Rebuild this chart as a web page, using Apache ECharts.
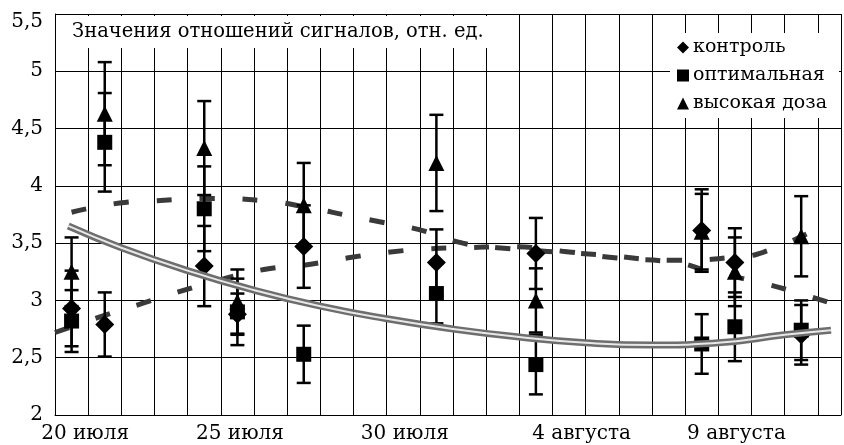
<!DOCTYPE html>
<html>
<head>
<meta charset="utf-8">
<script src="https://cdn.jsdelivr.net/npm/echarts@6/dist/echarts.min.js"></script>
<style>
	html, body { margin: 0; padding: 0; background: #fff; }
	#main { width: 844px; height: 445px; }
</style>
</head>
<body>
<div id="main"></div>
<script>
// дни июля (1 августа = 32); точки стоят посередине суток
var days = [19.5, 20.5, 23.5, 24.5, 26.5, 30.5, 33.5, 38.5, 39.5, 41.5];
// контроль
var control = [2.93, 2.79, 3.30, 2.88, 3.47, 3.33, 3.41, 3.61, 3.33, 2.70];
var controlErr = [0.33, 0.28, 0.35, 0.18, 0.36, 0.29, 0.31, 0.36, 0.30, 0.26];
// оптимальная
var optimal = [2.82, 4.38, 3.80, 2.90, 2.53, 3.06, 2.44, 2.62, 2.77, 2.74];
var optimalErr = [0.27, 0.43, 0.37, 0.29, 0.25, 0.26, 0.26, 0.26, 0.30, 0.26];
// высокая доза
var high = [3.25, 4.63, 4.33, 2.99, 3.83, 4.20, 3.00, 3.60, 3.25, 3.56];
var highErr = [0.30, 0.45, 0.41, 0.28, 0.37, 0.42, 0.28, 0.33, 0.30, 0.35];

// серая линия тренда
var trendDays = [19.4, 21, 23, 25, 27, 29, 31, 33, 35, 37, 39, 41, 42.4];
var trendVals = [3.65, 3.46, 3.26, 3.09, 2.95, 2.84, 2.75, 2.68, 2.63, 2.61, 2.63, 2.70, 2.74];
// пунктир нижний
var dashLowDays = [19.0, 20.4, 21.7, 22.9, 24.1, 25.3, 26.55, 27.8, 29.05, 30.25, 31.45, 32.65, 34.3, 35.95, 37.75, 38.65, 40.05, 41.25, 42.45];
var dashLowVals = [2.72, 2.86, 2.98, 3.09, 3.19, 3.27, 3.31, 3.37, 3.42, 3.45, 3.46, 3.47, 3.43, 3.37, 3.33, 3.26, 3.17, 3.08, 2.97];
// пунктир верхний
var dashHighDays = [19.5, 20.95, 22.0, 23.65, 25.3, 26.65, 27.85, 28.9, 29.95, 31.3, 32.35, 35.35, 37.75, 39.55, 40.35, 41.8];
var dashHighVals = [3.77, 3.85, 3.87, 3.89, 3.87, 3.81, 3.74, 3.68, 3.62, 3.50, 3.46, 3.40, 3.35, 3.38, 3.42, 3.60];

// подписи оси X
var xTickDays = [20, 25, 30, 35, 40];
var xTickText = ['20 июля', '25 июля', '30 июля', '4 августа', '9 августа'];
var yTicks = [2, 2.5, 3, 3.5, 4, 4.5, 5, 5.5];

var names = ['контроль', 'оптимальная', 'высокая доза'];

var serif = 'DejaVu Serif';
var myChart = echarts.init(document.getElementById('main'));

function pairs(xs, ys) {
	return xs.map(function(x, i) { return [x, ys[i]]; });
}

function errData(vals, errs) {
	return days.map(function(d, i) { return [d, vals[i] - errs[i], vals[i] + errs[i]]; });
}

function renderErr(params, api) {
	var x = api.value(0);
	var top = api.coord([x, api.value(2)]);
	var bot = api.coord([x, api.value(1)]);
	var w = 7;
	var st = { stroke: '#000', lineWidth: 2.5 };
	return {
		type: 'group',
		children: [
			{ type: 'line', shape: { x1: top[0], y1: top[1], x2: bot[0], y2: bot[1] }, style: st },
			{ type: 'line', shape: { x1: top[0] - w, y1: top[1], x2: top[0] + w, y2: top[1] }, style: st },
			{ type: 'line', shape: { x1: bot[0] - w, y1: bot[1], x2: bot[0] + w, y2: bot[1] }, style: st }
		]
	};
}

// сдвиг подписей влево, как на оригинале
var nudge = { 20: 3, 25: 14, 30: 15, 35: 4, 40: 15 };

var richX = {};
xTickDays.forEach(function(d) {
	richX['d' + d] = { fontSize: 20, fontFamily: serif, color: '#000', padding: [0, nudge[d] * 2, 0, 0] };
});

var option = {
	animation: false,
	title: {
		text: 'Значения отношений сигналов, отн. ед.',
		left: 65,
		top: 16,
		padding: [6, 9, 6, 7],
		backgroundColor: '#fff',
		textStyle: { fontSize: 19.5, fontWeight: 'normal', fontFamily: serif, color: '#000' }
	},
	legend: {
		data: names,
		orient: 'vertical',
		left: 670,
		top: 33,
		padding: [5, 12, 5, 7],
		itemGap: 9,
		itemWidth: 12,
		itemHeight: 12,
		backgroundColor: '#fff',
		textStyle: { fontSize: 19, fontFamily: serif, color: '#000', padding: [0, 0, 0, -1] }
	},
	grid: { left: 55, right: 0, top: 14, bottom: 30 },
	xAxis: {
		type: 'value',
		min: 19,
		max: 42.7,
		interval: 1,
		axisLine: { show: true, lineStyle: { color: '#000', width: 1 } },
		axisTick: { show: false },
		splitLine: { show: true, lineStyle: { color: '#000', width: 1 } },
		axisLabel: {
			margin: 9,
			formatter: function(v) {
				var k = xTickDays.indexOf(Math.round(v * 100) / 100);
				if (k < 0) return '';
				return '{d' + xTickDays[k] + '|' + xTickText[k] + '}';
			},
			rich: richX
		}
	},
	yAxis: {
		type: 'value',
		min: 2,
		max: 5.5,
		interval: 0.5,
		axisLine: { show: true, lineStyle: { color: '#000', width: 1 } },
		axisTick: { show: false },
		splitLine: { show: true, lineStyle: { color: '#000', width: 1 } },
		axisLabel: {
			margin: 12,
			fontSize: 20,
			fontFamily: serif,
			color: '#000',
			formatter: function(v) {
				var s = String(v).replace('.', ',');
				return yTicks.indexOf(v) === yTicks.length - 1 ? '{top|' + s + '}' : s;
			},
			rich: { top: { fontSize: 20, fontFamily: serif, color: '#000', padding: [15, 0, 0, 0] } }
		}
	},
	series: [
		{
			type: 'line', data: pairs(dashLowDays, dashLowVals), smooth: true, symbol: 'none', z: 3,
			lineStyle: { color: '#3a3a3a', width: 5, type: [15, 28] }
		},
		{
			type: 'line', data: pairs(dashHighDays, dashHighVals), smooth: true, symbol: 'none', z: 3,
			lineStyle: { color: '#3a3a3a', width: 5, type: [15, 28] }
		},
		{ type: 'custom', renderItem: renderErr, data: errData(control, controlErr), z: 4, silent: true },
		{ type: 'custom', renderItem: renderErr, data: errData(optimal, optimalErr), z: 4, silent: true },
		{ type: 'custom', renderItem: renderErr, data: errData(high, highErr), z: 4, silent: true },
		{
			name: names[1], type: 'scatter', data: pairs(days, optimal), symbol: 'rect', symbolSize: 15, z: 5,
			itemStyle: { color: '#000', opacity: 1 }
		},
		{
			name: names[0], type: 'scatter', data: pairs(days, control), symbol: 'diamond', symbolSize: 19, z: 5,
			itemStyle: { color: '#000', opacity: 1 }
		},
		{
			name: names[2], type: 'scatter', data: pairs(days, high), symbol: 'triangle', symbolSize: 16, z: 5,
			itemStyle: { color: '#000', opacity: 1 }
		},
		{
			type: 'line', data: pairs(trendDays, trendVals), smooth: true, symbol: 'none', z: 6,
			lineStyle: { color: '#6e6e6e', width: 7 }
		},
		{
			type: 'line', data: pairs(trendDays, trendVals), smooth: true, symbol: 'none', z: 7,
			lineStyle: { color: '#e8e8e8', width: 2 }
		}
	]
};

myChart.setOption(option);
</script>
</body>
</html>
